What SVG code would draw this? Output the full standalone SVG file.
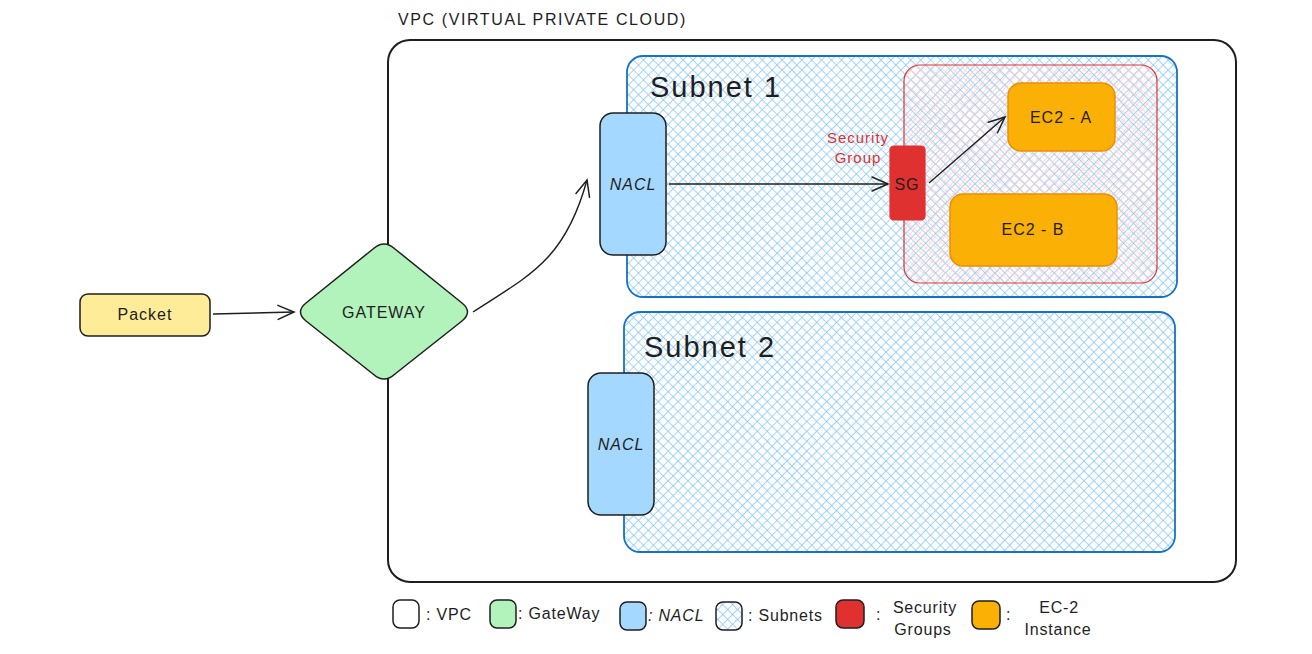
<svg xmlns="http://www.w3.org/2000/svg" width="1312" height="654" viewBox="0 0 1312 654">
<defs>
<pattern id="hb" width="7" height="7" patternUnits="userSpaceOnUse" patternTransform="rotate(45)">
<rect width="7" height="7" fill="#ffffff"/>
<line x1="0" y1="0" x2="0" y2="7" stroke="#8ccaf7" stroke-width="1.6"/>
<line x1="0" y1="0" x2="7" y2="0" stroke="#8ccaf7" stroke-width="1.6"/>
</pattern>
<pattern id="hr" width="7" height="7" patternUnits="userSpaceOnUse" patternTransform="rotate(40)">
<line x1="0" y1="0" x2="0" y2="7" stroke="#ffc9c9" stroke-width="1.5" opacity="0.9"/>
<line x1="0" y1="0" x2="7" y2="0" stroke="#ffc9c9" stroke-width="1.5" opacity="0.9"/>
</pattern>
<marker id="ah" viewBox="0 0 20 20" refX="18" refY="10" markerWidth="20" markerHeight="20" markerUnits="userSpaceOnUse" orient="auto">
<path d="M2,3 L18,10 L2,17" fill="none" stroke="#1e1e1e" stroke-width="1.5" stroke-linecap="round"/>
</marker>
<style>
text{font-family:"Liberation Sans","Noto Sans",sans-serif;fill:#1e1e1e}
.t{font-size:16px;text-anchor:middle;dominant-baseline:central;letter-spacing:1px}
.box{stroke:#1e1e1e;stroke-width:1.5}
.edge{fill:none;stroke:#1e1e1e;stroke-width:1.4}
.leg{font-size:16px;letter-spacing:0.8px}
</style>
</defs>
<rect width="1312" height="654" fill="#ffffff"/>

<g id="vpc">
<rect x="388" y="40" width="848" height="542" rx="22" fill="none" stroke="#1e1e1e" stroke-width="2"/>
<text x="398" y="25" font-size="16" style="letter-spacing:1.6px">VPC (VIRTUAL PRIVATE CLOUD)</text>
</g>

<g id="subnet1">
<rect x="627" y="56" width="550" height="241" rx="16" fill="url(#hb)" stroke="#1971c2" stroke-width="1.8"/>
<text x="650" y="97" font-size="29" style="letter-spacing:2px">Subnet 1</text>
</g>

<g id="subnet2">
<rect x="624" y="312" width="551" height="240" rx="16" fill="url(#hb)" stroke="#1971c2" stroke-width="1.8"/>
<text x="644" y="357" font-size="29" style="letter-spacing:2px">Subnet 2</text>
</g>

<g id="security-group">
<rect x="904" y="65" width="253" height="218" rx="16" fill="url(#hr)" stroke="#e03131" stroke-width="1.2"/>
<text x="858" y="143" font-size="15" text-anchor="middle" style="fill:#e03131;letter-spacing:1px">Security</text>
<text x="858" y="163" font-size="15" text-anchor="middle" style="fill:#e03131;letter-spacing:1px">Group</text>
</g>

<g id="nacl1">
<rect x="600" y="113" width="66" height="142" rx="13" fill="#a5d8ff" class="box"/>
<text x="633" y="184" class="t" font-style="italic">NACL</text>
</g>

<g id="nacl2">
<rect x="588" y="373" width="66" height="142" rx="13" fill="#a5d8ff" class="box"/>
<text x="621" y="444" class="t" font-style="italic">NACL</text>
</g>

<g id="sg">
<rect x="890" y="146" width="35" height="74" rx="4" fill="#e03131" stroke="#e03131" stroke-width="1.2"/>
<text x="907" y="184" class="t">SG</text>
</g>

<g id="ec2a">
<rect x="1008" y="83" width="107" height="68" rx="13" fill="#fab005" stroke="#f08c00" stroke-width="1.4"/>
<text x="1061" y="117" class="t">EC2 - A</text>
</g>

<g id="ec2b">
<rect x="950" y="194" width="167" height="72" rx="13" fill="#fab005" stroke="#f08c00" stroke-width="1.4"/>
<text x="1033" y="229" class="t">EC2 - B</text>
</g>

<g id="packet">
<rect x="80" y="294" width="130" height="42" rx="8" fill="#ffec99" class="box"/>
<text x="145" y="314" class="t">Packet</text>
</g>

<g id="gateway">
<path d="M373,249 Q384,239 395,249 L462,303 Q473,312 462,321 L395,374 Q384,384 373,374 L306,321 Q295,312 306,303 Z" fill="#b2f2bb" class="box"/>
<text x="384" y="312" class="t">GATEWAY</text>
</g>

<g id="connectors">
<path class="edge" d="M213,314 L294,312" marker-end="url(#ah)"/>
<path class="edge" d="M473,312 C530,275 565,260 587,180" marker-end="url(#ah)"/>
<path class="edge" d="M669,184 L888,184" marker-end="url(#ah)"/>
<path class="edge" d="M929,183 L1005,117" marker-end="url(#ah)"/>
</g>

<g id="legend">
<rect x="393" y="600" width="26" height="28" rx="7" fill="#ffffff" class="box"/>
<text x="426" y="620" class="leg">: VPC</text>
<rect x="490" y="600" width="26" height="28" rx="7" fill="#b2f2bb" class="box"/>
<text x="518" y="619" class="leg">: GateWay</text>
<rect x="620" y="602" width="26" height="28" rx="7" fill="#a5d8ff" class="box"/>
<text x="648" y="621" class="leg" font-style="italic">: NACL</text>
<rect x="716" y="602" width="26" height="28" rx="7" fill="url(#hb)" class="box"/>
<text x="748" y="621" class="leg">: Subnets</text>
<rect x="836" y="600" width="28" height="28" rx="7" fill="#e03131" class="box"/>
<text x="876" y="620" class="leg">:</text>
<text x="925" y="613" class="leg" text-anchor="middle">Security</text>
<text x="923" y="635" class="leg" text-anchor="middle">Groups</text>
<rect x="972" y="601" width="28" height="28" rx="7" fill="#fab005" class="box"/>
<text x="1006" y="620" class="leg">:</text>
<text x="1059" y="613" class="leg" text-anchor="middle">EC-2</text>
<text x="1058" y="635" class="leg" text-anchor="middle">Instance</text>
</g>
</svg>
